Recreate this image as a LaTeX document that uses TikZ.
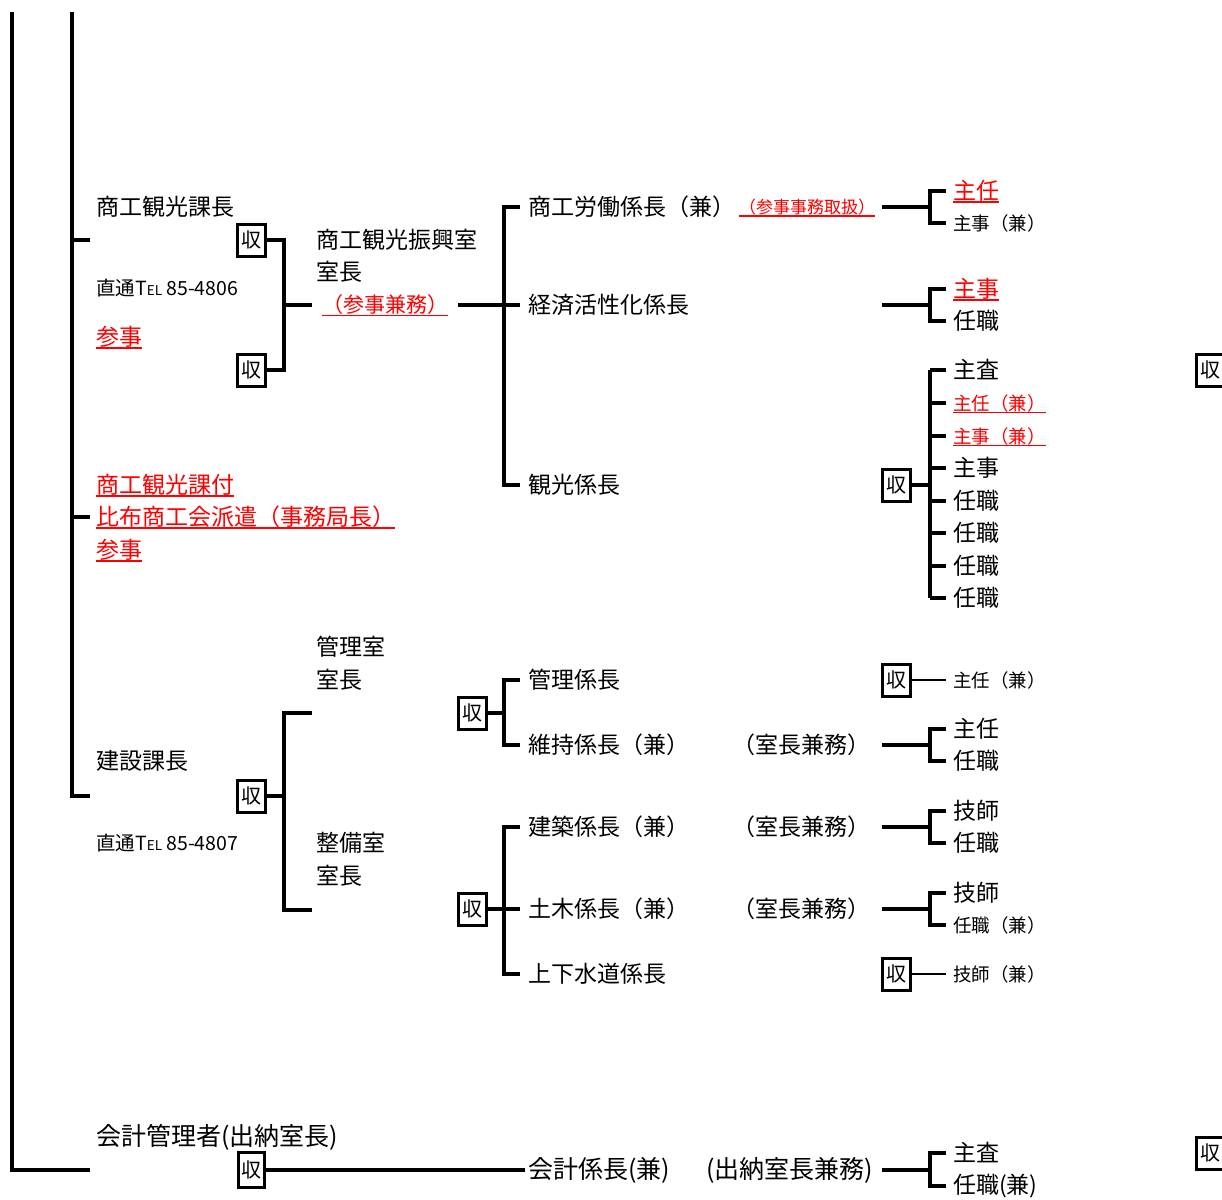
\documentclass[tikz,border=0pt]{standalone}
\usepackage{fontspec}
\setmainfont{Noto Sans CJK JP}
\newcommand{\tel}{T{\fontsize{13.5}{14}\selectfont EL}}

\begin{document}
\begin{tikzpicture}[x=1pt, y=-1pt,
  lbl/.style={right, inner sep=0pt, font=\fontsize{23}{24}\selectfont},
  big/.style={right, inner sep=0pt, font=\fontsize{25}{26}\selectfont},
  sml/.style={right, inner sep=0pt, font=\fontsize{18.5}{20}\selectfont},
  telno/.style={right, inner sep=0pt, font=\fontsize{19.5}{20}\selectfont},
  alert/.style={text=red},
  smlred/.style={sml, alert, ul},
  ul/.style={append after command={\pgfextra{\let\ulnode\tikzlastnode}
    ([yshift=-2.6pt]\ulnode.base west) edge[draw=red, line width=1.7pt]
    ([yshift=-2.6pt]\ulnode.base east)}},
  shu/.style={draw, line width=3pt, minimum width=28pt, minimum height=32pt,
    inner sep=0pt, font=\fontsize{20}{20}\selectfont},
  ln/.style={line width=3.2pt},
  fine/.style={line width=2.3pt}]
\useasboundingbox (0,0) rectangle (1222,1199);

% trunk lines
\coordinate (topA) at (12,12);
\coordinate (endA) at (90,1170);
\coordinate (topB) at (72,12);
\coordinate (endB) at (90,796);
\coordinate (tk1) at (90,240);
\coordinate (tk2) at (90,517);
\draw[ln] (topA) |- (endA);
\draw[ln] (topB) |- (endB);
\draw[ln] (tk1) -- (tk1 -| topB);
\draw[ln] (tk2) -- (tk2 -| topB);

% shokou kankou ka
\node[lbl] (kacho1) at (96,207) {商工観光課長};
\node[telno] (tel1) at (96,288) {直通\tel{} 85-4806};
\node[lbl, alert, ul] (sanji1) at (96,337) {参事};
\node[shu] (s1) at (251,240) {収};
\node[shu] (s2) at (251,370) {収};
\coordinate (sp1) at (284,305);
\draw[ln] (s1.east) -| (sp1) |- (s2.east);
\node[lbl] (shinko) at (316,240) {商工観光振興室};
\node[lbl] (shinko2) at (316,272) {室長};
\node[right, inner sep=0pt, font=\fontsize{21}{22}\selectfont, alert, ul] (kenmu1) at (322,305) {（参事兼務）};
\draw[ln] (sp1) -- ([xshift=-10pt]kenmu1.west);

\coordinate (sp2) at (504,305);
\node[lbl] (rodo) at (528,207) {商工労働係長（兼）};
\node[lbl] (keizai) at (528,305) {経済活性化係長};
\node[lbl] (kanko) at (528,485) {観光係長};
\node[right, inner sep=0pt, font=\fontsize{17}{18}\selectfont, alert, ul] (toriatsukai) at (739,207) {（参事事務取扱）};
\draw[ln] ([xshift=10pt]kenmu1.east) -- ([xshift=-8pt]keizai.west);
\draw[ln] ([xshift=-8pt]rodo.west) -| (sp2) |- ([xshift=-8pt]kanko.west);

% rodo
\coordinate (st3) at (882,207);
\coordinate (sp3) at (930,207);
\node[lbl, alert, ul] (r3a) at (953,191) {主任};
\node[sml] (r3b) at (953,223) {主事（兼）};
\draw[ln] (st3) -- (sp3);
\draw[ln] ([xshift=-7pt]r3a.west) -| (sp3) |- ([xshift=-7pt]r3b.west);

% keizai
\coordinate (st4) at (882,305);
\coordinate (sp4) at (930,305);
\node[lbl, alert, ul] (r4a) at (953,289) {主事};
\node[lbl] (r4b) at (953,321) {任職};
\draw[ln] (st4) -- (sp4);
\draw[ln] ([xshift=-7pt]r4a.west) -| (sp4) |- ([xshift=-7pt]r4b.west);

% kanko
\node[shu] (s5) at (896,485) {収};
\coordinate (sp5) at (930,485);
\draw[ln] (s5.east) -- (sp5);
\foreach \y/\t/\st [count=\i] in {370/主査/lbl, 403/主任（兼）/smlred,
  436/主事（兼）/smlred, 468/主事/lbl, 501/任職/lbl, 533/任職/lbl,
  566/任職/lbl, 598/任職/lbl}
{
  \node[\st] (kk\i) at (953,\y) {\t};
  \draw[ln] ([xshift=-7pt]kk\i.west) -- (kk\i.west -| sp5);
}
\draw[ln] (kk1.west -| sp5) -- (kk8.west -| sp5);
\node[shu] (s5r) at (1210,370) {収};

% fuzoku
\node[lbl, alert, ul] (fu1) at (96,485) {商工観光課付};
\node[lbl, alert, ul] (fu2) at (96,517) {比布商工会派遣（事務局長）};
\node[lbl, alert, ul] (fu3) at (96,550) {参事};

% kensetsu ka
\node[lbl] (kacho2) at (96,761) {建設課長};
\node[telno] (tel2) at (96,843) {直通\tel{} 85-4807};
\node[shu] (s6) at (251,796) {収};
\coordinate (sp6) at (284,796);
\coordinate (e6a) at (312,713);
\coordinate (e6b) at (312,910);
\draw[ln] (s6.east) -- (sp6);
\draw[ln] (e6a) -| (sp6) |- (e6b);
\node[lbl] (kanri) at (316,647) {管理室};
\node[lbl] (kanri2) at (316,680) {室長};
\node[lbl] (seibi) at (316,843) {整備室};
\node[lbl] (seibi2) at (316,876) {室長};

% kanri shitsu
\node[shu] (s7) at (472,713) {収};
\coordinate (sp7) at (504,713);
\node[lbl] (kanrik) at (528,680) {管理係長};
\node[lbl] (iji) at (528,745) {維持係長（兼）};
\node[lbl] (kenmu2) at (732,745) {（室長兼務）};
\draw[ln] (s7.east) -- (sp7);
\draw[ln] ([xshift=-8pt]kanrik.west) -| (sp7) |- ([xshift=-8pt]iji.west);

\node[shu] (s8) at (896,680) {収};
\node[sml] (r8) at (953,680) {主任（兼）};
\draw[fine] (s8.east) -- ([xshift=-7pt]r8.west);

\coordinate (st9) at (882,745);
\coordinate (sp9) at (930,745);
\node[lbl] (r9a) at (953,729) {主任};
\node[lbl] (r9b) at (953,761) {任職};
\draw[ln] (st9) -- (sp9);
\draw[ln] ([xshift=-7pt]r9a.west) -| (sp9) |- ([xshift=-7pt]r9b.west);

% seibi shitsu
\node[shu] (s10) at (472,909) {収};
\coordinate (sp10) at (504,909);
\node[lbl] (kenchiku) at (528,827) {建築係長（兼）};
\node[lbl] (doboku) at (528,909) {土木係長（兼）};
\node[lbl] (gesui) at (528,974) {上下水道係長};
\node[lbl] (kenmu3) at (732,827) {（室長兼務）};
\node[lbl] (kenmu4) at (732,909) {（室長兼務）};
\draw[ln] (s10.east) -- ([xshift=-8pt]doboku.west);
\draw[ln] ([xshift=-8pt]kenchiku.west) -| (sp10) |- ([xshift=-8pt]gesui.west);

\coordinate (st11) at (882,827);
\coordinate (sp11) at (930,827);
\node[lbl] (r11a) at (953,811) {技師};
\node[lbl] (r11b) at (953,843) {任職};
\draw[ln] (st11) -- (sp11);
\draw[ln] ([xshift=-7pt]r11a.west) -| (sp11) |- ([xshift=-7pt]r11b.west);

\coordinate (st12) at (882,909);
\coordinate (sp12) at (930,909);
\node[lbl] (r12a) at (953,893) {技師};
\node[sml] (r12b) at (953,925) {任職（兼）};
\draw[ln] (st12) -- (sp12);
\draw[ln] ([xshift=-7pt]r12a.west) -| (sp12) |- ([xshift=-7pt]r12b.west);

\node[shu] (s13) at (896,974) {収};
\node[sml] (r13) at (953,974) {技師（兼）};
\draw[fine] (s13.east) -- ([xshift=-7pt]r13.west);

% kaikei
\node[big] (kaikeikanri) at (96,1137) {会計管理者(出納室長)};
\node[shu, minimum width=26pt, minimum height=35pt] (s14) at (251,1170) {収};
\node[big] (kaikei) at (528,1170) {会計係長(兼)};
\node[big] (suitou) at (706,1170) {(出納室長兼務)};
\draw[ln] (s14.east) -- ([xshift=-3pt]kaikei.west);

\coordinate (st15) at (882,1170);
\coordinate (sp15) at (930,1170);
\node[lbl] (r15a) at (953,1153) {主査};
\node[right, inner sep=0pt, font=\fontsize{23}{24}\selectfont] (r15b) at (953,1186) {任職(兼)};
\draw[ln] (st15) -- (sp15);
\draw[ln] ([xshift=-7pt]r15a.west) -| (sp15) |- ([xshift=-7pt]r15b.west);
\node[shu] (s15r) at (1210,1153) {収};
\end{tikzpicture}
\end{document}
